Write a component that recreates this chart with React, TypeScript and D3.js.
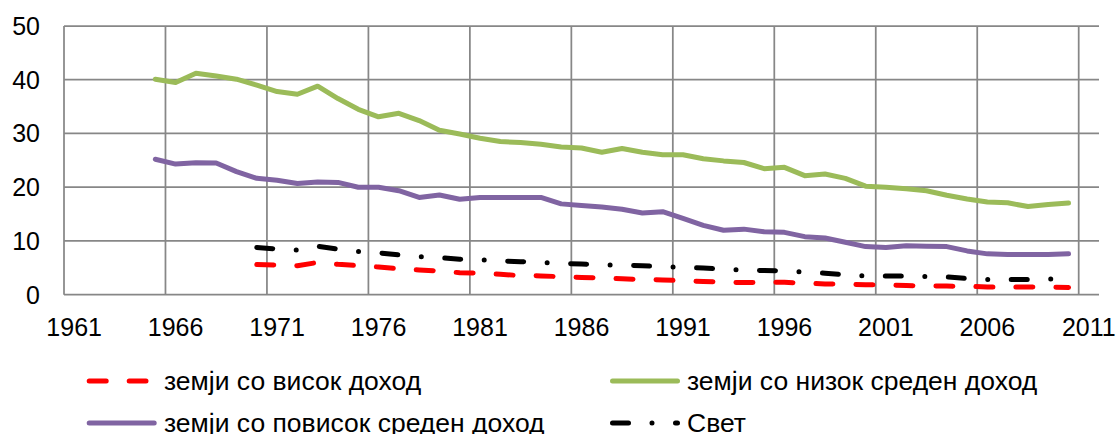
import React from "react";
import * as d3 from "d3";

const years: number[] = d3.range(1961, 2012);
const tickYears: number[] = [1961, 1966, 1971, 1976, 1981, 1986, 1991, 1996, 2001, 2006, 2011];
const yTicks: number[] = [0, 10, 20, 30, 40, 50];

const yearsLong: number[] = d3.range(1965, 2011);
const yearsShort: number[] = d3.range(1970, 2011);

// земји со низок среден доход (1965-2010)
const lowerMiddle: number[] = [
  40.1, 39.5, 41.2, 40.7, 40.1, 39.0, 37.8, 37.3, 38.8, 36.5,
  34.5, 33.1, 33.75, 32.4, 30.6, 29.9, 29.1, 28.5, 28.3, 28.0,
  27.5, 27.3, 26.5, 27.2, 26.5, 26.05, 26.05, 25.3, 24.9, 24.6,
  23.45, 23.7, 22.15, 22.45, 21.65, 20.2, 20.0, 19.7, 19.35, 18.5,
  17.8, 17.25, 17.1, 16.4, 16.8, 17.05,
];

// земји со повисок среден доход (1965-2010)
const upperMiddle: number[] = [
  25.2, 24.3, 24.55, 24.5, 22.9, 21.65, 21.3, 20.7, 20.95, 20.9,
  20.0, 20.0, 19.35, 18.1, 18.55, 17.75, 18.1, 18.1, 18.1, 18.1,
  16.9, 16.6, 16.3, 15.9, 15.2, 15.45, 14.2, 12.9, 12.0, 12.2,
  11.7, 11.6, 10.8, 10.55, 9.75, 8.95, 8.8, 9.1, 9.0, 8.95,
  8.15, 7.6, 7.5, 7.5, 7.5, 7.6,
];

// земји со висок доход (1970-2010)
const highIncome: number[] = [
  5.6, 5.5, 5.4, 6.0, 5.65, 5.4, 5.15, 4.85, 4.6, 4.4,
  4.1, 4.0, 3.8, 3.55, 3.5, 3.35, 3.2, 3.1, 2.95, 2.85,
  2.75, 2.6, 2.45, 2.35, 2.25, 2.3, 2.3, 2.15, 2.0, 1.95,
  1.85, 1.8, 1.7, 1.65, 1.6, 1.55, 1.45, 1.45, 1.45, 1.4,
  1.35,
];

// Свет (1970-2010)
const world: number[] = [
  8.8, 8.5, 8.3, 9.0, 8.5, 8.05, 7.8, 7.4, 7.1, 6.9,
  6.6, 6.5, 6.3, 6.15, 6.0, 5.85, 5.7, 5.55, 5.5, 5.4,
  5.2, 5.1, 4.95, 4.75, 4.6, 4.5, 4.45, 4.2, 4.0, 3.7,
  3.5, 3.5, 3.45, 3.4, 3.3, 3.0, 2.85, 2.85, 2.85, 2.9,
  2.95,
];

const seriesNames: string[] = [
  "земји со висок доход",
  "земји со низок среден доход",
  "земји со повисок среден доход",
  "Свет",
];

const W = 1118;
const H = 434;
const FONT = "'Liberation Sans', Arial, sans-serif";

export default function App() {
  const x = d3.scaleBand<number>().domain(years).range([64, 1099]).padding(0);
  const bw = x.bandwidth();
  const y = d3.scaleLinear().domain([0, 50]).range([294.7, 26]);
  const cx = (yr: number) => (x(yr) as number) + bw / 2;

  const line = d3
    .line<[number, number]>()
    .x((d) => cx(d[0]))
    .y((d) => y(d[1]));

  const pairs = (ys: number[], vs: number[]) => ys.map((yr, i) => [yr, vs[i]] as [number, number]);

  const series = [
    { name: seriesNames[0], data: pairs(yearsShort, highIncome), color: "#FF0000", dash: "17 23" },
    { name: seriesNames[1], data: pairs(yearsLong, lowerMiddle), color: "#9BBB59", dash: undefined },
    { name: seriesNames[2], data: pairs(yearsLong, upperMiddle), color: "#8064A2", dash: undefined },
    { name: seriesNames[3], data: pairs(yearsShort, world), color: "#000000", dash: "16 23.5 0 23.5" },
  ];

  const legendPos = [
    { x1: 89.2, x2: 146, ly: 381, tx: 164 },
    { x1: 612.5, x2: 677.5, ly: 381, tx: 687 },
    { x1: 89.2, x2: 154.2, ly: 423, tx: 164 },
    { x1: 612.5, x2: 677.5, ly: 423, tx: 687 },
  ];

  const gridColor = "#878787";

  return (
    <svg
      width={W}
      height={H}
      style={{ position: "absolute", left: 0, top: 0, background: "#fff" }}
      fontFamily={FONT}
    >
      {/* horizontal grid */}
      {yTicks.map((t) => (
        <line key={"h" + t} x1={64} x2={1099} y1={y(t)} y2={y(t)} stroke={gridColor} strokeWidth={1.75} />
      ))}
      {/* vertical grid */}
      {tickYears.map((t) => (
        <line
          key={"v" + t}
          x1={x(t) as number}
          x2={x(t) as number}
          y1={y(50)}
          y2={y(0)}
          stroke={gridColor}
          strokeWidth={1.75}
        />
      ))}
      {/* y labels */}
      {yTicks.map((t) => (
        <text key={"yl" + t} x={40} y={y(t)} textAnchor="end" dominantBaseline="central" fontSize={25} fill="#000">
          {t}
        </text>
      ))}
      {/* x labels */}
      {tickYears.map((t) => (
        <text key={"xl" + t} x={cx(t)} y={327} textAnchor="middle" dominantBaseline="central" fontSize={25} fill="#000">
          {t}
        </text>
      ))}
      {/* series */}
      {series.map((s) => (
        <path
          key={s.name}
          d={line(s.data) || ""}
          fill="none"
          stroke={s.color}
          strokeWidth={5}
          strokeLinecap="round"
          strokeLinejoin="round"
          strokeDasharray={s.dash}
        />
      ))}
      {/* legend */}
      {series.map((s, i) => {
        const p = legendPos[i];
        return (
          <g key={"lg" + i}>
            <line
              x1={p.x1}
              x2={p.x2}
              y1={p.ly}
              y2={p.ly}
              stroke={s.color}
              strokeWidth={5}
              strokeLinecap="round"
              strokeDasharray={s.dash}
            />
            <text x={p.tx} y={p.ly} dominantBaseline="central" fontSize={26.5} fill="#000">
              {s.name}
            </text>
          </g>
        );
      })}
    </svg>
  );
}
